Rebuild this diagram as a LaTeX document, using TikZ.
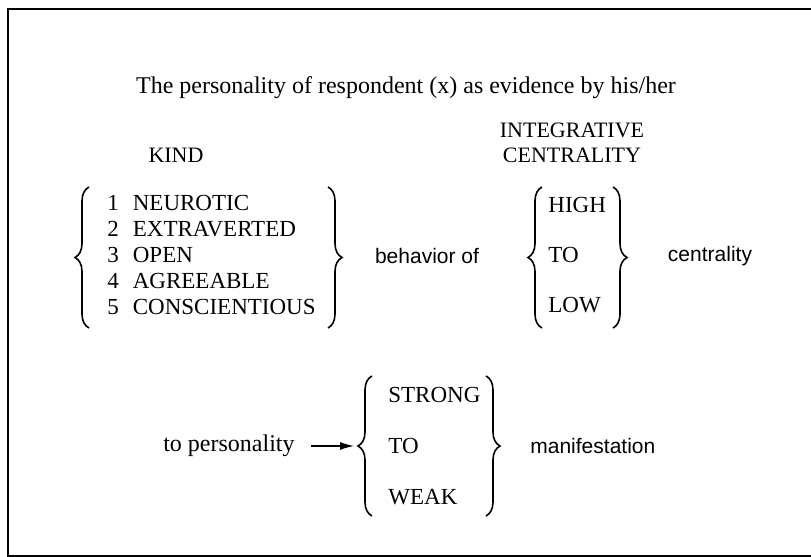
\documentclass[tikz,border=0pt]{standalone}
\usepackage{fontspec}
\setmainfont{Liberation Serif}
\newfontfamily\sansf{Liberation Sans}
\usetikzlibrary{decorations.pathreplacing,arrows.meta}
\tikzset{
  lbl/.style={font=\fontsize{12}{14}\selectfont, inner sep=0pt},
  head/.style={font=\fontsize{11}{13}\selectfont, inner sep=0pt},
  item/.style={font=\fontsize{11.5}{13}\selectfont, inner sep=0pt, anchor=west},
  word/.style={font=\sansf\fontsize{10.5}{12}\selectfont, inner sep=0pt},
  cbrace/.style={decorate, decoration={brace, amplitude=7pt}, line width=0.8pt},
}
\newcommand{\num}[2]{#1\hspace{7pt}#2}

\begin{document}
\begin{tikzpicture}[x=0.5pt,y=-0.5pt]
\useasboundingbox (0,0) rectangle (811,557);
%frame, open on the right
\draw[line width=1pt] (815,9) -- (8,9) -- (8,556) -- (815,556);

\node[lbl] (title) at (406,88) {The personality of respondent (x) as evidence by his/her};
\node[head] (kind) at (176,155) {KIND};
\node[head] (int) at (572,130) {INTEGRATIVE};
\node[head] (cen) at (572,155) {CENTRALITY};

%kinds
\node[item] (k1) at (107,203) {\num{1}{NEUROTIC}};
\node[item] (k2) at (107,229) {\num{2}{EXTRAVERTED}};
\node[item] (k3) at (107,255) {\num{3}{OPEN}};
\node[item] (k4) at (107,281) {\num{4}{AGREEABLE}};
\node[item] (k5) at (107,307) {\num{5}{CONSCIENTIOUS}};
\draw[cbrace] (89,328) -- (89,187);
\draw[cbrace] (328,187) -- (328,328);

\node[word] (beh) at (427,256) {behavior of};

%centrality
\node[item] (c1) at (548,205) {HIGH};
\node[item] (c2) at (548,255) {TO};
\node[item] (c3) at (548,305) {LOW};
\draw[cbrace] (542,328) -- (542,187);
\draw[cbrace] (613,187) -- (613,328);
\node[word] (cent) at (710,256) {centrality};

%manifestation
\node[lbl, anchor=east] (topers) at (295,446) {to personality};
\node[item] (m1) at (388,395) {STRONG};
\node[item] (m2) at (388,446) {TO};
\node[item] (m3) at (388,497) {WEAK};
\draw[cbrace] (372,516) -- (372,376);
\draw[cbrace] (486,376) -- (486,516);
\coordinate (tip) at (354,446);
\node[word, anchor=west] (man) at (530,446) {manifestation};

\draw[-{Latex[length=7pt,width=4pt]}, line width=0.6pt] ([xshift=8pt]topers.east) -- (tip);
\end{tikzpicture}
\end{document}
